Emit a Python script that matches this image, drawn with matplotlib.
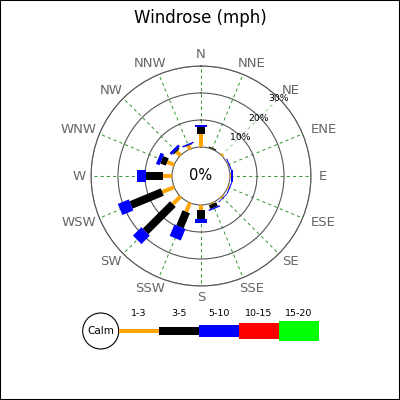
import numpy as np
import matplotlib
matplotlib.use("Agg")
import matplotlib.pyplot as plt
from matplotlib.patches import Circle, Rectangle

# wind directions, clockwise from north
directions = ['N', 'NNE', 'NE', 'ENE', 'E', 'ESE', 'SE', 'SSE',
              'S', 'SSW', 'SW', 'WSW', 'W', 'WNW', 'NW', 'NNW']
# percentage of time per speed range (mph)
ranges = ['1-3', '3-5', '5-10', '10-15', '15-20']
mph_1_3 = [4.7, 0.1, 0.6, 0.3, 0.5, 0.5, 0.6, 0.4, 1.9, 3.6, 4.0, 4.8, 3.3, 2.8, 2.0, 1.4]
mph_3_5 = [2.6, 0.4, 0.0, 0.0, 0.0, 0.0, 0.0, 1.5, 3.1, 6.0, 14.3, 12.5, 6.3, 2.2, 0.5, 0.2]
mph_5_10 = [1.0, 0.0, 0.0, 0.4, 0.6, 0.4, 0.3, 0.5, 1.5, 4.6, 4.4, 4.4, 3.5, 1.4, 1.0, 0.5]
mph_10_15 = [0, 0, 0, 0, 0, 0, 0, 0, 0, 0, 0, 0, 0, 0, 0, 0]
mph_15_20 = [0, 0, 0, 0, 0, 0, 0, 0, 0, 0, 0, 0, 0, 0, 0, 0]
scale_ticks = [10, 20, 30]

colors = ['#ffa500', '#000000', '#0000ff', '#ff0000', '#00ff00']
widths_px = [4, 8, 12, 16, 20]
PT = 0.72  # px -> pt at 100 dpi

fig = plt.figure(figsize=(4, 4), dpi=100)
fig.patch.set_facecolor('white')

# legend layer in pixel coords
lax = fig.add_axes([0, 0, 1, 1])
lax.set_xlim(0, 400)
lax.set_ylim(400, 0)
lax.axis('off')

# rose
cx, cy, r_out, r_calm = 201, 176, 110, 29
ax = fig.add_axes([(cx - r_out) / 400, (400 - cy - r_out) / 400,
                   2 * r_out / 400, 2 * r_out / 400], projection='polar')
ax.set_theta_zero_location('N')
ax.set_theta_direction(-1)
rmax = scale_ticks[-1]
ax.set_ylim(0, rmax)
ax.set_rorigin(-rmax * r_calm / (r_out - r_calm))

theta = np.deg2rad(np.arange(16) * 22.5)
ax.set_xticks(theta)
ax.set_xticklabels([''] * 16)
ax.set_yticks(scale_ticks)
ax.set_yticklabels([])
ax.xaxis.grid(True, color='#3a9a3a', linestyle=(0, (3, 3)), linewidth=0.75)
ax.yaxis.grid(True, color='#555555', linestyle='-', linewidth=0.8)
ax.xaxis.get_gridlines()[2].set_color('#9fd09f')
ax.spines['polar'].set_color('#555555')
ax.spines['polar'].set_linewidth(0.8)
ax.spines['inner'].set_color('#555555')
ax.spines['inner'].set_linewidth(0.8)
ax.tick_params(length=0)

series = [mph_1_3, mph_3_5, mph_5_10, mph_10_15, mph_15_20]
for i, t in enumerate(theta):
    r0 = 0.0
    for j, vals in enumerate(series):
        v = vals[i]
        if v <= 0:
            continue
        ax.plot([t, t], [r0, r0 + v], color=colors[j], lw=widths_px[j] * PT,
                solid_capstyle='butt', clip_on=False, zorder=3 + j)
        r0 += v

# direction labels
px_per_unit = (r_out - r_calm) / rmax
r_lab = (116 - r_calm) / px_per_unit
for t, lbl in zip(theta, directions):
    hw = len(lbl) * 5.5
    dx = hw * np.sin(t)
    dy = 5.5 * np.cos(t)
    ax.annotate(lbl, xy=(t, r_lab), xytext=(dx, dy), textcoords='offset pixels',
                ha='center', va='center', fontsize=9.5, color='#666666',
                annotation_clip=False)

# scale labels along NE
for v in scale_ticks:
    ax.text(np.deg2rad(45), v - 0.4, '%d%%' % v, ha='center', va='center',
            fontsize=6.7, color='black', zorder=10)

fig.text(cx / 400, 1 - cy / 400, '0%', ha='center', va='center', fontsize=10.5)
fig.text(0.5, 1 - 18 / 400, 'Windrose (mph)', ha='center', va='center', fontsize=12)

# legend
ly = 331
lax.add_patch(Circle((100.7, ly), 18, fill=False, ec='black', lw=0.8))
lax.text(100.7, ly, 'Calm', ha='center', va='center', fontsize=7.5)
x0 = 118.7
for j, lbl in enumerate(ranges):
    lax.plot([x0 + 40 * j, x0 + 40 * (j + 1)], [ly, ly], color=colors[j],
             lw=widths_px[j] * PT, solid_capstyle='butt')
    lax.text(x0 + 40 * j + 20, 314, lbl, ha='center', va='center', fontsize=6.8)

fig.patches.append(Rectangle((0, 0), 1, 1, transform=fig.transFigure,
                             fill=False, ec='black', lw=1.5))

fig.savefig('out.png', dpi=100)
